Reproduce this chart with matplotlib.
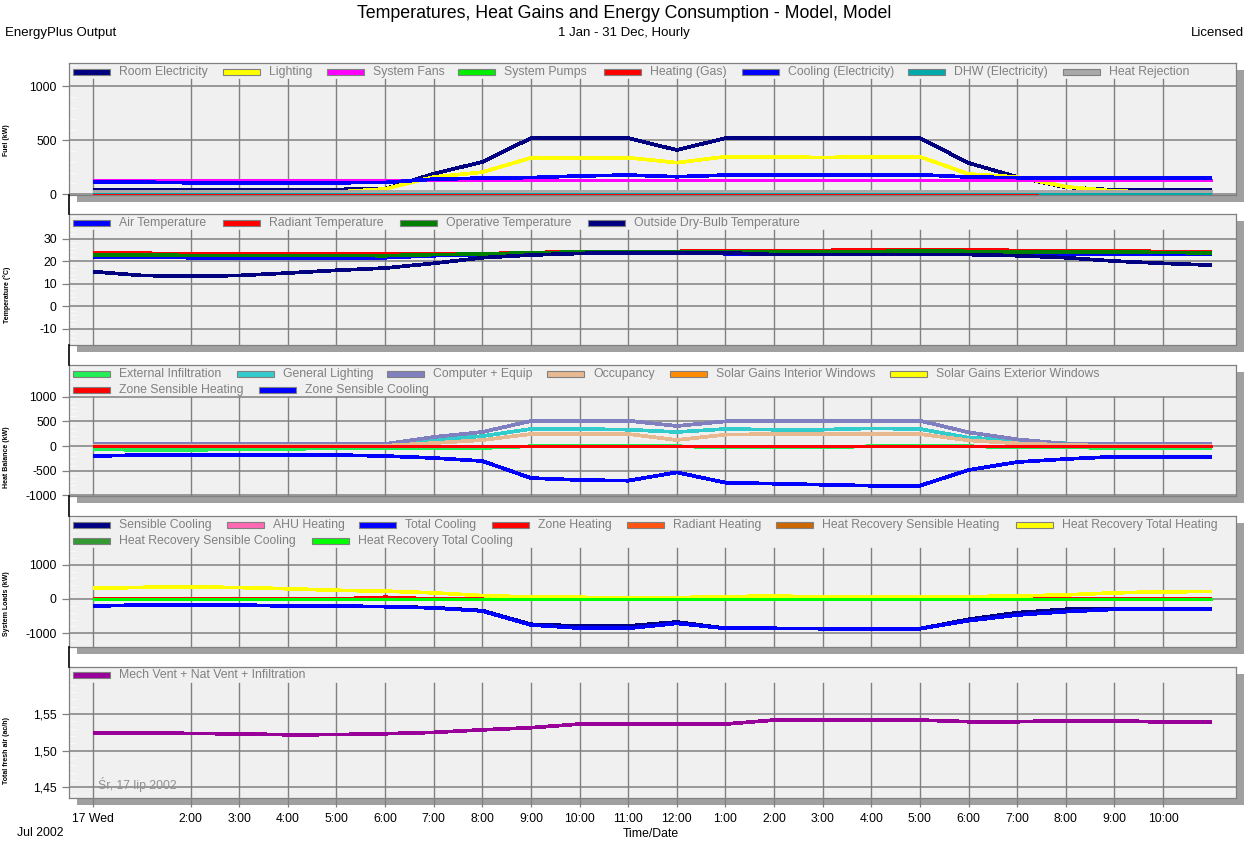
import matplotlib
matplotlib.use('Agg')
import matplotlib.pyplot as plt
from matplotlib.patches import Rectangle
from matplotlib.lines import Line2D
from matplotlib.ticker import MultipleLocator

plt.rcParams['font.family'] = ['Liberation Sans', 'DejaVu Sans']

# ---------------- data ----------------
hours = [0, 1, 2, 3, 4, 5, 6, 7, 8, 9, 10, 11, 12, 13, 14, 15, 16, 17, 18, 19, 20, 21, 22, 23]
tick_hours = [0, 2, 3, 4, 5, 6, 7, 8, 9, 10, 11, 12, 13, 14, 15, 16, 17, 18, 19, 20, 21, 22]
tick_labels = ['17 Wed', '2:00', '3:00', '4:00', '5:00', '6:00', '7:00', '8:00', '9:00', '10:00',
               '11:00', '12:00', '1:00', '2:00', '3:00', '4:00', '5:00', '6:00', '7:00', '8:00',
               '9:00', '10:00']

# Panel 1 - Fuel (kW)
room_electricity = [45, 45, 45, 45, 45, 45, 50, 190, 300, 520, 520, 520, 410, 520, 520, 520, 520, 520, 290, 160, 65, 40, 40, 40]
lighting = [20, 20, 20, 20, 20, 20, 50, 160, 205, 337, 337, 339, 293, 348, 348, 340, 348, 348, 188, 160, 70, 30, 20, 20]
system_fans = [132, 132, 132, 132, 132, 132, 132, 132, 132, 132, 132, 132, 132, 132, 132, 132, 132, 132, 132, 132, 132, 132, 132, 132]
system_pumps = [10, 10, 10, 10, 10, 10, 10, 10, 10, 10, 10, 10, 10, 10, 10, 10, 10, 10, 10, 10, 20, 22, 22, 22]
heating_gas = [0, 0, 0, 0, 0, 5, 12, 12, 12, 12, 12, 12, 12, 12, 12, 12, 12, 12, 0, 0, 0, 0, 0, 0]
cooling_elec = [117, 112, 107, 107, 107, 107, 110, 140, 150, 155, 170, 178, 163, 178, 181, 181, 181, 181, 160, 154, 154, 154, 154, 154]
dhw_elec = [18, 18, 18, 18, 18, 18, 18, 18, 18, 18, 18, 18, 18, 18, 18, 18, 18, 18, 18, 18, 12, 12, 12, 12]
heat_rejection = [35, 35, 35, 35, 35, 35, 35, 35, 35, 35, 35, 35, 35, 35, 35, 35, 35, 35, 35, 35, 35, 35, 35, 35]

# Panel 2 - Temperature (C)
air_temp = [21.9, 21.9, 21.5, 21.5, 21.5, 21.5, 21.5, 22.4, 22.9, 23.3, 23.5, 23.5, 23.5, 23.3, 23.3, 23.1, 23.3, 23.7, 23.3, 23.3, 23.3, 23.1, 23.1, 23.1]
radiant_temp = [23.7, 23.5, 23.2, 23.2, 23.2, 23.2, 23.2, 23.3, 23.3, 23.7, 24.3, 24.3, 24.3, 24.7, 24.7, 24.7, 25.1, 24.8, 25.1, 24.7, 24.7, 24.7, 24.2, 24.1]
operative_temp = [22.8, 22.7, 22.5, 22.5, 22.5, 22.5, 22.4, 22.9, 23.1, 23.7, 24.0, 24.0, 24.0, 24.1, 24.1, 24.1, 24.2, 24.6, 24.3, 24.1, 24.1, 24.1, 23.8, 23.7]
outside_temp = [15.3, 13.6, 13.3, 13.6, 14.7, 15.9, 16.9, 19.0, 21.5, 22.7, 23.4, 23.7, 23.7, 23.7, 22.9, 22.9, 22.9, 22.9, 22.9, 22.4, 21.5, 20.0, 19.0, 18.2]

# Panel 3 - Heat Balance (kW)
ext_infiltration = [-61, -81, -81, -61, -61, -41, -41, -40, -40, -5, -5, -5, -5, -27, -27, -27, -5, -5, -5, -27, -27, -40, -47, -47]
general_lighting = [15, 15, 15, 15, 15, 15, 30, 130, 200, 345, 345, 331, 284, 345, 331, 331, 358, 345, 169, 115, 54, 20, 15, 15]
computer_equip = [40, 40, 40, 40, 40, 40, 40, 183, 284, 507, 513, 513, 406, 500, 513, 513, 513, 513, 277, 135, 47, 47, 47, 47]
occupancy = [0, 0, 0, 0, 0, 0, 5, 60, 120, 243, 243, 243, 122, 230, 243, 243, 243, 243, 115, 54, 20, 5, 0, 0]
solar_interior = [0, 0, 0, 0, 0, 0, 0, 0, 0, 0, 0, 0, 0, 0, 0, 0, 0, 0, 0, 0, 0, 0, 0, 0]
solar_exterior = [0, 0, 0, 0, 0, 0, 0, 0, 0, 0, 0, 0, 0, 0, 0, 0, 0, 0, 0, 0, 0, 0, 0, 0]
zone_sens_heating = [0, 0, 0, 0, 0, 0, 0, 0, 0, 0, 0, 0, 0, 0, 0, 0, 0, 0, 0, 0, 0, 0, 0, 0]
zone_sens_cooling = [-203, -183, -183, -183, -183, -183, -203, -243, -304, -650, -690, -703, -534, -744, -764, -785, -805, -805, -487, -325, -264, -216, -216, -216]

# Panel 4 - System Loads (kW)
sensible_cooling = [-205, -175, -175, -175, -205, -205, -224, -255, -340, -740, -790, -789, -672, -858, -858, -868, -868, -868, -595, -400, -302, -283, -293, -293]
ahu_heating = [0, 0, 0, 0, 0, 0, 0, 0, 0, 0, 0, 0, 0, 0, 0, 0, 0, 0, 0, 0, 0, 0, 0, 0]
total_cooling = [-205, -175, -175, -175, -205, -205, -224, -260, -350, -760, -850, -858, -712, -858, -858, -868, -868, -868, -634, -468, -370, -302, -293, -293]
zone_heating = [0, 0, 0, 0, 0, 0, 50, 0, 0, 0, 0, 0, 0, 0, 0, 0, 0, 0, 0, 0, 0, 0, 0, 0]
radiant_heating = [0, 0, 0, 0, 0, 0, 0, 0, 0, 0, 0, 0, 0, 0, 0, 0, 0, 0, 0, 0, 0, 0, 0, 0]
hr_sens_heating = [0, 0, 0, 0, 0, 0, 0, 0, 0, 0, 0, 0, 0, 0, 0, 0, 0, 0, 0, 0, 0, 0, 0, 0]
hr_total_heating = [312, 340, 351, 335, 300, 255, 230, 180, 100, 60, 49, 40, 40, 68, 88, 60, 49, 49, 70, 88, 120, 180, 210, 220]
hr_sens_cooling = [0, 0, 0, 0, 0, 0, 0, 0, 0, 0, 0, 0, 0, 0, 0, 0, 0, 0, 0, 0, 0, 0, 0, 0]
hr_total_cooling = [0, 0, 0, 0, 0, 0, 0, 0, 0, 0, 0, 0, 0, 0, 0, 0, 0, 0, 0, 0, 0, 0, 0, 0]

# Panel 5 - Total fresh air (ac/h)
fresh_air = [1.5246, 1.5243, 1.5236, 1.5230, 1.5218, 1.5220, 1.5232, 1.5250, 1.5285, 1.5314, 1.5364, 1.5364,
             1.5364, 1.5364, 1.5418, 1.5418, 1.5418, 1.5418, 1.5396, 1.5396, 1.5410, 1.5410, 1.5391, 1.5391]

# ---------------- layout helpers ----------------
W, H = 1253, 848
fig = plt.figure(figsize=(W / 100, H / 100), dpi=100)
fig.patch.set_facecolor('white')


def fx(x):
    return x / W


def fy(y):
    return 1 - y / H


FRAME_L, FRAME_R = 69, 1236
GRID = '#808080'
BG = '#eff0ef'
LW = 1.95

panels = [
    dict(top=63.3, bottom=195, ylim=(-6.5, 1213), yticks=[0, 500, 1000], ylabels=['0', '500', '1000'],
         minor=100, title='Fuel (kW)', ylab_y=140, grid_top=79,
         series=[('Room Electricity', room_electricity, '#000080'),
                 ('Lighting', lighting, '#ffff00'),
                 ('System Fans', system_fans, '#ff00ff'),
                 ('System Pumps', system_pumps, '#00ee00'),
                 ('Heating (Gas)', heating_gas, '#ff0000'),
                 ('Cooling (Electricity)', cooling_elec, '#0000ff'),
                 ('DHW (Electricity)', dhw_elec, '#00aaaa'),
                 ('Heat Rejection', heat_rejection, '#a9a9a9')],
         legend=[(73, 72), (223, 72), (327, 72), (458, 72), (604, 72), (742, 72), (908, 72), (1063, 72)]),
    dict(top=214.3, bottom=345, ylim=(-17.3, 40.8), yticks=[-10, 0, 10, 20, 30],
         ylabels=['-10', '0', '10', '20', '30'], minor=2, title='Temperature (\u00b0C)', ylab_y=295, grid_top=230,
         series=[('Air Temperature', air_temp, '#0000ff'),
                 ('Radiant Temperature', radiant_temp, '#ff0000'),
                 ('Operative Temperature', operative_temp, '#008000'),
                 ('Outside Dry-Bulb Temperature', outside_temp, '#000080')],
         legend=[(73, 223), (223, 223), (400, 223), (588, 223)]),
    dict(top=365, bottom=496, ylim=(-1014, 1643), yticks=[-1000, -500, 0, 500, 1000],
         ylabels=['-1000', '-500', '0', '500', '1000'], minor=100, title='Heat Balance (kW)', ylab_y=457,
         grid_top=397,
         series=[('External Infiltration', ext_infiltration, '#22ee55'),
                 ('General Lighting', general_lighting, '#33cccc'),
                 ('Computer + Equip', computer_equip, '#8080c0'),
                 ('Occupancy', occupancy, '#e8b890'),
                 ('Solar Gains Interior Windows', solar_interior, '#ff8c00'),
                 ('Solar Gains Exterior Windows', solar_exterior, '#ffff00'),
                 ('Zone Sensible Heating', zone_sens_heating, '#ff0000'),
                 ('Zone Sensible Cooling', zone_sens_cooling, '#0000ff')],
         legend=[(73, 374), (237, 374), (387, 374), (547, 374), (670, 374), (890, 374), (73, 390), (259, 390)]),
    dict(top=516, bottom=646.7, ylim=(-1395, 2427), yticks=[-1000, 0, 1000], ylabels=['-1000', '0', '1000'],
         minor=200, title='System Loads (kW)', ylab_y=604, grid_top=548,
         series=[('Sensible Cooling', sensible_cooling, '#000080'),
                 ('AHU Heating', ahu_heating, '#ff69b4'),
                 ('Total Cooling', total_cooling, '#0000ff'),
                 ('Zone Heating', zone_heating, '#ff0000'),
                 ('Radiant Heating', radiant_heating, '#ff5511'),
                 ('Heat Recovery Sensible Heating', hr_sens_heating, '#cc6600'),
                 ('Heat Recovery Total Heating', hr_total_heating, '#ffff00'),
                 ('Heat Recovery Sensible Cooling', hr_sens_cooling, '#339933'),
                 ('Heat Recovery Total Cooling', hr_total_cooling, '#00ff00')],
         legend=[(73, 525), (227, 525), (359, 525), (492, 525), (627, 525), (776, 525), (1016, 525),
                 (73, 541), (312, 541)]),
    dict(top=667.3, bottom=798.3, ylim=(1.4351, 1.6138), yticks=[1.45, 1.50, 1.55],
         ylabels=['1,45', '1,50', '1,55'], minor=0.01, title='Total fresh air (ac/h)', ylab_y=750, grid_top=683,
         series=[('Mech Vent + Nat Vent + Infiltration', fresh_air, '#990099')],
         legend=[(73, 675)]),
]

for i, p in enumerate(panels):
    top, bottom = p['top'], p['bottom']
    ax = fig.add_axes([fx(FRAME_L), fy(bottom), (FRAME_R - FRAME_L) / W, (bottom - top) / H])
    ax.set_facecolor(BG)
    for s in ax.spines.values():
        s.set_color(GRID)
        s.set_linewidth(0.9)
    ax.set_xlim(-0.5, 23.5)
    ax.set_ylim(*p['ylim'])

    # shadow
    fig.add_artist(Rectangle((fx(FRAME_L + 8), fy(bottom + 7)), (FRAME_R - FRAME_L) / W, (bottom - top) / H,
                             transform=fig.transFigure, facecolor='#a0a0a0', edgecolor='none', zorder=-2))

    # grid
    gfrac = (bottom - p['grid_top']) / (bottom - top)
    for yt in p['yticks']:
        ax.axhline(yt, color=GRID, lw=1.1, zorder=1)
    for h in tick_hours:
        ax.axvline(h, ymin=0, ymax=gfrac, color=GRID, lw=1.0, zorder=1)

    ax.set_yticks(p['yticks'])
    ax.set_yticklabels(p['ylabels'])
    ax.yaxis.set_minor_locator(MultipleLocator(p['minor']))
    ax.tick_params(axis='y', which='major', length=5.2, width=0.9, color=GRID, pad=3.6,
                   labelsize=8.8, labelcolor='black')
    ax.tick_params(axis='y', which='minor', direction='in', length=5, width=0.7, color='#fafafa')

    if i < 4:
        ax.set_xticks([])
    else:
        ax.set_xticks(tick_hours)
        ax.set_xticklabels(tick_labels)
        ax.tick_params(axis='x', length=6.5, width=0.9, color=GRID, pad=4.0, labelsize=8.8,
                       labelcolor='black')

    # data
    for label, vals, col in p['series']:
        ax.plot(hours, vals, color=col, lw=LW, solid_capstyle='butt', antialiased=False, zorder=3)

    # legend (manual, like the original)
    for (label, vals, col), (sx, ry) in zip(p['series'], p['legend']):
        fig.add_artist(Rectangle((fx(sx), fy(ry + 3)), 37 / W, 6 / H, transform=fig.transFigure,
                                 facecolor=col, edgecolor=GRID, lw=0.8, zorder=5))
        fig.text(fx(sx + 46), fy(ry), label, ha='left', va='center', fontsize=8.8, color='#808080', zorder=5)

    # y label
    fig.text(fx(7), fy(p['ylab_y']), p['title'], rotation=90, ha='center', va='center', fontsize=5,
             fontweight='bold')

    # black connector line in the gap below
    if i < 4:
        nxt = panels[i + 1]['top']
        fig.add_artist(Line2D([fx(FRAME_L), fx(FRAME_L)], [fy(bottom), fy(nxt)], color='black', lw=1.2,
                              transform=fig.transFigure))

# header / footer texts
fig.text(fx(624), fy(13), 'Temperatures, Heat Gains and Energy Consumption - Model, Model', ha='center',
         va='center', fontsize=12.8)
fig.text(fx(5), fy(33), 'EnergyPlus Output', ha='left', va='center', fontsize=9.5)
fig.text(fx(624), fy(33), '1 Jan - 31 Dec, Hourly', ha='center', va='center', fontsize=9.5)
fig.text(fx(1244), fy(33), 'Licensed', ha='right', va='center', fontsize=9.5)
fig.text(fx(40), fy(833), 'Jul 2002', ha='center', va='center', fontsize=8.8)
fig.text(fx(651), fy(834), 'Time/Date', ha='center', va='center', fontsize=8.8)
fig.text(fx(98), fy(784), '\u015ar, 17 lip 2002', ha='left', va='center', fontsize=8.8, color='#909090')

fig.savefig('out.png', dpi=100, facecolor='white')
